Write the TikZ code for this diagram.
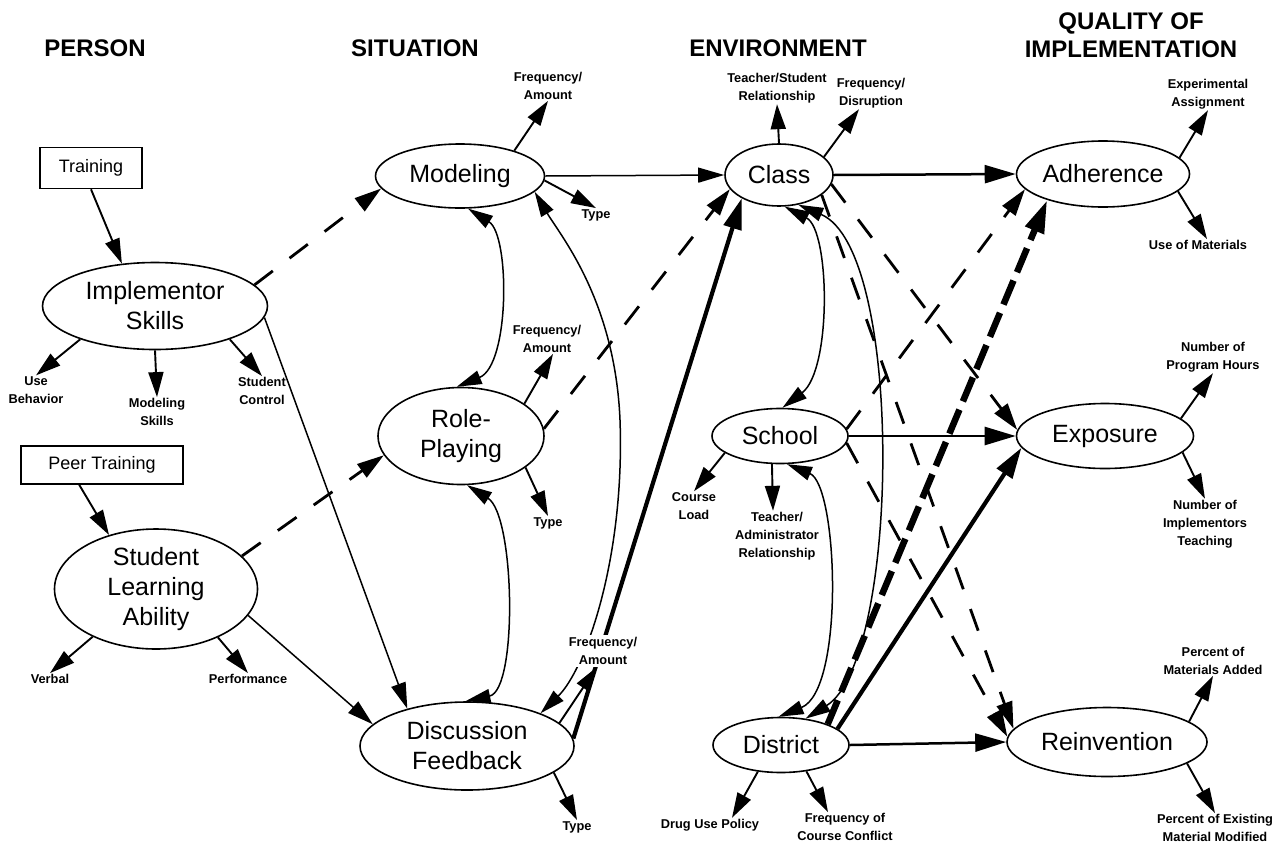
\documentclass[tikz,border=0pt]{standalone}
\usepackage{fontspec}
\setmainfont{Liberation Sans}
\usetikzlibrary{arrows.meta,shapes.geometric,backgrounds}
\begin{document}
\begin{tikzpicture}[x=1pt,y=-1pt,
  ell/.style={draw, line width=1.6pt, ellipse, inner sep=0pt, align=center, fill=white, font=\fontsize{25}{30}\selectfont},
  box/.style={draw, line width=1.6pt, rectangle, inner sep=0pt, fill=white, font=\fontsize{18}{20}\selectfont},
  lab/.style={align=center, inner sep=1pt, font=\bfseries\fontsize{12.8}{18}\selectfont},
  head/.style={align=center, inner sep=0pt, font=\bfseries\fontsize{24}{28}\selectfont},
  sarr/.style={-{Triangle[length=25pt,width=15pt]}, line width=1.9pt},
  tarr/.style={-{Triangle[length=26pt,width=15pt]}, line width=1.5pt},
  marr/.style={-{Triangle[length=31pt,width=18pt]}, line width=2.5pt},
  thk/.style={-{Triangle[length=31pt,width=18pt]}, line width=4.2pt},
  darr/.style={-{Triangle[length=27pt,width=16pt]}, line width=2.8pt, dash pattern=on 23pt off 21pt},
  tdarr/.style={-{Triangle[length=33pt,width=19pt]}, line width=6.5pt, dash pattern=on 26pt off 9pt},
  biarr/.style={{Triangle[length=25pt,width=14pt]}-{Triangle[length=25pt,width=14pt]}, line width=1.5pt},
]
\useasboundingbox (0,0) rectangle (1281,849);

% headings
\node[head] (hP) at (95,48) {PERSON};
\node[head] (hS) at (415,48) {SITUATION};
\node[head] (hE) at (778,48) {ENVIRONMENT};
\node[head] (hQ) at (1131,35) {QUALITY OF\\IMPLEMENTATION};

% boxes
\node[box, minimum width=102pt, minimum height=41pt] (trn) at (91,168) {Training};
\node[box, minimum width=162pt, minimum height=38pt] (ptr) at (102,465) {Peer Training};

% ellipses
\node[ell, minimum width=225pt, minimum height=87pt] (imp) at (155,306) {Implementor\\Skills};
\node[ell, minimum width=203pt, minimum height=120pt] (sla) at (156,589) {Student\\Learning\\Ability};
\node[ell, minimum width=169pt, minimum height=64pt] (mod) at (460,176) {Modeling};
\node[ell, minimum width=166pt, minimum height=97pt] (rol) at (461,436) {Role-\\Playing};
\node[ell, minimum width=214pt, minimum height=88pt] (dis) at (467,746) {Discussion\\Feedback};
\node[ell, minimum width=108pt, minimum height=62pt] (cls) at (779,175) {Class};
\node[ell, minimum width=136pt, minimum height=55pt] (sch) at (780,436) {School};
\node[ell, minimum width=136pt, minimum height=55pt] (dst) at (781,745) {District};
\node[ell, minimum width=173pt, minimum height=66pt] (adh) at (1103,174) {Adherence};
\node[ell, minimum width=177pt, minimum height=65pt] (exq) at (1105,436) {Exposure};
\node[ell, minimum width=200pt, minimum height=69pt] (rei) at (1107,742) {Reinvention};

% labels
\node[lab] (ub) at (36,390) {Use\\Behavior};
\node[lab] (ms) at (157,412) {Modeling\\Skills};
\node[lab] (sc) at (262,391) {Student\\Control};
\node[lab] (vb) at (50,679) {Verbal};
\node[lab] (pf) at (248,679) {Performance};
\node[lab] (mfa) at (548,86) {Frequency/\\Amount};
\node[lab] (mty) at (596,215) {Type};
\node[lab] (rfa) at (547,339) {Frequency/\\Amount};
\node[lab] (rty) at (548,523) {Type};
\node[lab, fill=white, inner sep=2pt] (dfa) at (603,651) {Frequency/\\Amount};
\node[lab] (dty) at (577,827) {Type};
\node[lab] (tsr) at (777,88) {Teacher/Student\\Relationship};
\node[lab] (cfd) at (871,93) {Frequency/\\Disruption};
\node[lab] (cl) at (694,506) {Course\\Load};
\node[lab] (tar) at (777,536) {Teacher/\\Administrator\\Relationship};
\node[lab] (dup) at (710,825) {Drug Use Policy};
\node[lab] (fcc) at (845,827) {Frequency of\\Course Conflict};
\node[lab] (exa) at (1208,94) {Experimental\\Assignment};
\node[lab] (uom) at (1198,245) {Use of Materials};
\node[lab] (nph) at (1213,357) {Number of\\Program Hours};
\node[lab] (nit) at (1205,524) {Number of\\Implementors\\Teaching};
\node[lab] (pma) at (1213,661) {Percent of\\Materials Added};
\node[lab] (pem) at (1215,828) {Percent of Existing\\Material Modified};

\begin{pgfonlayer}{background}
\fill[white] (0,0) rectangle (1281,849);
% person column
\draw[sarr] (trn.south) -- (imp.128);
\draw[sarr] (imp.-156) -- (ub.north);
\draw[sarr] (imp.south) -- (ms.north);
\draw[sarr] (imp.-24) -- (sc.north);
\draw[sarr] (ptr.-139) -- (sla.131);
\draw[sarr] (sla.-143) -- (vb.north);
\draw[sarr] (sla.-38) -- (pf.north);
\draw[darr] (imp.12) -- (mod.-171);
\draw[tarr] (imp.-6) -- (dis.148);
\draw[darr] (sla.21) -- (rol.-166);
\draw[tarr] (sla.-16) -- (dis.167);

% situation column
\draw[sarr] (mod.25) -- (mfa.south);
\draw[sarr] (mod.-3) -- (mty.north);
\draw[tarr] (mod.east) -- (cls.west);
\draw[biarr] (mod.-76) .. controls (510,235) and (510,365) .. (rol.95);
\draw[biarr] (rol.-83) .. controls (515,515) and (518,690) .. (dis.92);
\draw[biarr] (mod.-12) .. controls (560,235) and (615,300) .. (620,420) .. controls (625,560) and (585,670) .. (dis.24);
\draw[sarr] (rol.27) -- ([xshift=6pt]rfa.south);
\draw[sarr] (rol.-26) -- (rty.north);
\draw[darr] (rol.5) -- (cls.-164);
\draw[thk] (dis.4) -- (cls.-148);
\draw[sarr] (dis.14) -- ([xshift=-6pt]dfa.south);
\draw[sarr] (dis.-17) -- (dty.north);

% environment column
\draw[sarr] (cls.north) -- (tsr.south);
\draw[sarr] (cls.22) -- ([xshift=-12pt]cfd.south);
\draw[marr] (cls.east) -- (adh.west);
\draw[darr] (cls.-10) -- (exq.176);
\draw[darr] (cls.-25) -- (rei.172);
\draw[biarr] (cls.-80) .. controls (830,230) and (832,370) .. (sch.85);
\draw[biarr] (cls.-57) .. controls (905,250) and (900,660) .. (dst.47);
\draw[biarr] (sch.-76) .. controls (838,485) and (845,690) .. (dst.95);
\draw[sarr] (sch.-163) -- (cl.north);
\draw[sarr] (sch.-106) -- ([xshift=-4pt]tar.north);
\draw[marr] (sch.east) -- (exq.west);
\draw[darr] (sch.6) -- (adh.-169);
\draw[darr] (sch.-6) -- (rei.177);
\draw[tdarr] (dst.24) -- (adh.-155);
\draw[thk] (dst.16) -- (exq.-172);
\draw[marr] (dst.east) -- (rei.west);
\draw[sarr] (dst.-131) -- ([xshift=22pt]dup.north);
\draw[sarr] (dst.-46) -- ([xshift=-17pt]fcc.north);

% quality column
\draw[sarr] (adh.12) -- (exa.south);
\draw[sarr] (adh.-13) -- ([xshift=9pt]uom.north);
\draw[sarr] (exq.13) -- (nph.south);
\draw[sarr] (exq.-12) -- (nit.north);
\draw[sarr] (rei.14) -- (pma.south);
\draw[sarr] (rei.-15) -- (pem.north);
\end{pgfonlayer}
\end{tikzpicture}
\end{document}
